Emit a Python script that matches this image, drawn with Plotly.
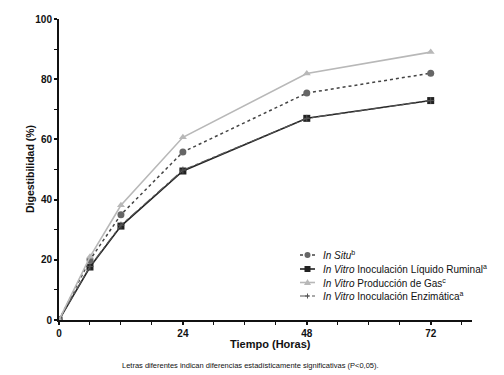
import plotly.graph_objects as go

horas = [0, 6, 12, 24, 48, 72]
in_situ = [0, 20, 35, 55.8, 75.4, 82]
liquido_ruminal = [0, 17.6, 31.2, 49.5, 67, 72.9]
produccion_gas = [0, 21, 38.1, 60.7, 81.9, 89]
enzimatica = [0, 17.8, 31.5, 49.8, 67, 72.9]

x_tickvals = [0, 24, 48, 72]
y_tickvals = [0, 20, 40, 60, 80, 100]

nombres = [
    "<i>In Situ</i><sup>b</sup>",
    "<i>In Vitro</i> Inoculación Líquido Ruminal<sup>a</sup>",
    "<i>In Vitro</i> Producción de Gas<sup>c</sup>",
    "<i>In Vitro</i> Inoculación Enzimática<sup>a</sup>",
]

FONT = "Liberation Sans, Arial, sans-serif"
W, H = 504, 375
ML, MR, MT, MB = 59, 32, 19, 55
PW, PH = W - ML - MR, H - MT - MB


def px_x(p):
    return (p - ML) / PW


def px_y(p):
    return (H - MB - p) / PH


styles = {
    "situ": dict(line=dict(color="#444444", width=1.5, dash="dot"), sym="circle", mcolor="#666666"),
    "liq": dict(line=dict(color="#222222", width=1.6, dash="solid"), sym="square", mcolor="#222222"),
    "gas": dict(line=dict(color="#b8b8b8", width=1.6, dash="solid"), sym="triangle-up", mcolor="#b8b8b8"),
    "enz": dict(line=dict(color="#555555", width=1.2, dash="dashdot"), sym="cross-thin", mcolor="#555555"),
}

fig = go.Figure()


def add(key, y, name):
    st = styles[key]
    fig.add_trace(go.Scatter(
        x=horas, y=y, mode="lines+markers", name=name, showlegend=False,
        line=st["line"],
        marker=dict(symbol=st["sym"], size=5 if key == "enz" else 7, color=st["mcolor"],
                    line=dict(width=1, color=st["mcolor"]) if key == "enz" else dict(width=0))))


add("liq", liquido_ruminal, nombres[1])
add("enz", enzimatica, nombres[3])
add("situ", in_situ, nombres[0])
add("gas", produccion_gas, nombres[2])

# custom compact legend
rows = [255, 269, 282.5, 296]
keys = ["situ", "liq", "gas", "enz"]
for key, py, name in zip(keys, rows, nombres):
    st = styles[key]
    y = px_y(py)
    fig.add_shape(type="line", xref="paper", yref="paper", x0=px_x(300), x1=px_x(315), y0=y, y1=y,
                  line=st["line"])
    xa = px_x(307.5)
    common = dict(xref="paper", yref="paper", xsizemode="pixel", ysizemode="pixel", xanchor=xa, yanchor=y)
    if key == "situ":
        fig.add_shape(type="circle", x0=-3, x1=3, y0=-3, y1=3, fillcolor=st["mcolor"], line=dict(width=0), **common)
    elif key == "liq":
        fig.add_shape(type="rect", x0=-3, x1=3, y0=-3, y1=3, fillcolor=st["mcolor"], line=dict(width=0), **common)
    elif key == "gas":
        fig.add_shape(type="path", path="M-3.5,-2.5 L3.5,-2.5 L0,3.5 Z", fillcolor=st["mcolor"], line=dict(width=0), **common)
    else:
        fig.add_shape(type="path", path="M-2.5,0 L2.5,0 M0,-2.5 L0,2.5", line=dict(color=st["mcolor"], width=1), **common)
    fig.add_annotation(text=name, xref="paper", yref="paper", x=px_x(321), y=y, xanchor="left", yanchor="middle",
                       showarrow=False, font=dict(family=FONT, size=10, color="#111111"))

fig.update_layout(
    width=W, height=H,
    margin=dict(l=ML, r=MR, t=MT, b=MB),
    paper_bgcolor="white", plot_bgcolor="white",
    font=dict(family=FONT, size=10, color="#111111"),
    showlegend=False,
)

fig.update_xaxes(
    range=[0, 80], tickmode="array", tickvals=x_tickvals,
    ticktext=["<b>%d</b>" % v for v in x_tickvals],
    ticks="outside", ticklen=3, tickwidth=1.5, tickcolor="#111111",
    minor=dict(tickmode="array", tickvals=[6, 12, 18, 30, 36, 42, 54, 60, 66, 78], ticks="outside", ticklen=3, tickwidth=1.2, tickcolor="#111111"),
    showline=True, linecolor="#111111", linewidth=2, showgrid=False, zeroline=False,
    tickfont=dict(size=10),
)
fig.update_yaxes(
    range=[0, 100], tickmode="array", tickvals=y_tickvals,
    ticktext=["<b>%d</b>" % v for v in y_tickvals],
    ticks="outside", ticklen=3, tickwidth=1.5, tickcolor="#111111",
    minor=dict(tickmode="array", tickvals=[10, 30, 50, 70, 90], ticks="outside", ticklen=3, tickwidth=1.2, tickcolor="#111111"),
    showline=True, linecolor="#111111", linewidth=2, showgrid=False, zeroline=False,
    tickfont=dict(size=10),
)

fig.add_annotation(text="<b>Tiempo (Horas)</b>", xref="paper", yref="paper", x=px_x(270), y=px_y(344),
                   xanchor="center", yanchor="middle", showarrow=False, font=dict(family=FONT, size=11, color="#111111"))
fig.add_annotation(text="<b>Digestibilidad (%)</b>", xref="paper", yref="paper", x=px_x(30), y=px_y(169),
                   xanchor="center", yanchor="middle", textangle=-90, showarrow=False,
                   font=dict(family=FONT, size=10.5, color="#111111"))
fig.add_annotation(
    text="Letras diferentes indican diferencias estadísticamente significativas (P<0,05).",
    xref="paper", yref="paper", x=px_x(250), y=px_y(365), xanchor="center", yanchor="middle",
    showarrow=False, font=dict(family=FONT, size=7.5, color="#111111"))

fig.write_html("out.html", config={"displayModeBar": False},
               post_script="document.body.style.margin='0';document.body.style.overflow='hidden';")
